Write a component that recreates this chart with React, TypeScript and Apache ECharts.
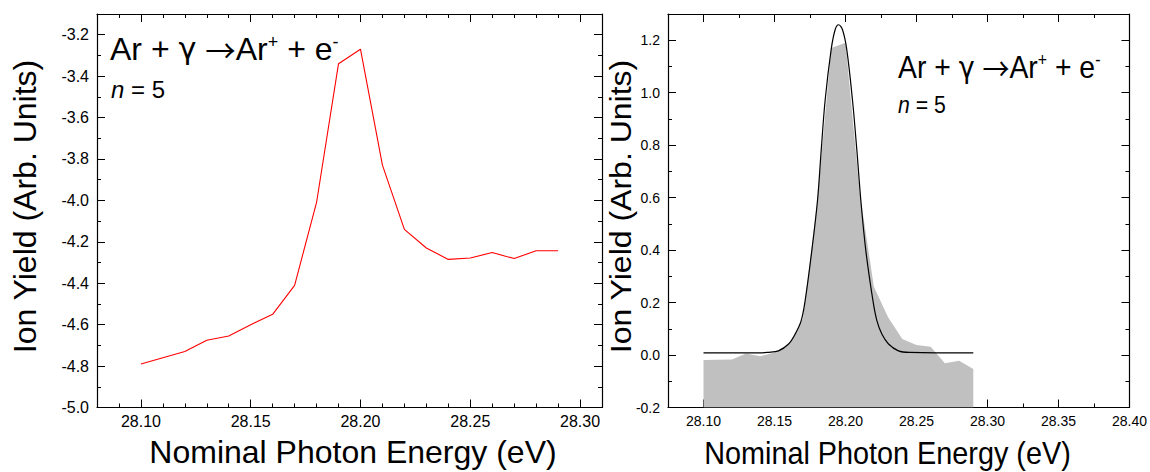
import React, { useEffect, useRef } from "react";
import * as echarts from "echarts";

// ---------- data ----------
const energy = [28.10, 28.11, 28.12, 28.13, 28.14, 28.15, 28.16, 28.17, 28.18, 28.19, 28.20, 28.21, 28.22, 28.23, 28.24, 28.25, 28.26, 28.27, 28.28, 28.29];
const leftYield = [-4.79, -4.76, -4.73, -4.675, -4.655, -4.60, -4.55, -4.41, -4.01, -3.34, -3.27, -3.83, -4.14, -4.23, -4.285, -4.278, -4.252, -4.281, -4.243, -4.243];
const rightYield = [-0.019, -0.018, -0.017, 0.006, -0.005, 0.010, 0.042, 0.138, 0.58, 1.17, 1.19, 0.62, 0.26, 0.144, 0.061, 0.038, 0.032, -0.031, -0.022, -0.053];

const fitEnergy = [28.10, 28.14, 28.145, 28.1528, 28.1599, 28.1646, 28.1688, 28.1716, 28.1763, 28.1803, 28.1829, 28.1857, 28.1899, 28.1927, 28.1951, 28.1979, 28.2009, 28.2049, 28.208, 28.2108, 28.2143, 28.2193, 28.2221, 28.2256, 28.2303, 28.2373, 28.245, 28.29];
const fitYield = [0.008, 0.008, 0.010, 0.016, 0.042, 0.080, 0.131, 0.208, 0.399, 0.590, 0.781, 0.973, 1.164, 1.240, 1.259, 1.240, 1.164, 0.973, 0.781, 0.590, 0.399, 0.208, 0.131, 0.080, 0.042, 0.016, 0.010, 0.008];

// ---------- ticks ----------
const leftXMajor = [28.10, 28.15, 28.20, 28.25, 28.30];
const leftXMinor = [28.09, 28.11, 28.12, 28.13, 28.14, 28.16, 28.17, 28.18, 28.19, 28.21, 28.22, 28.23, 28.24, 28.26, 28.27, 28.28, 28.29];
const leftYMajor = [-5.0, -4.8, -4.6, -4.4, -4.2, -4.0, -3.8, -3.6, -3.4, -3.2];
const leftYMinor = [-4.9, -4.7, -4.5, -4.3, -4.1, -3.9, -3.7, -3.5, -3.3];
const rightXMajor = [28.10, 28.15, 28.20, 28.25, 28.30, 28.35, 28.40];
const rightXMinor = [28.125, 28.175, 28.225, 28.275, 28.325, 28.375];
const rightYMajor = [-0.2, 0.0, 0.2, 0.4, 0.6, 0.8, 1.0, 1.2];
const rightYMinor = [-0.1, 0.1, 0.3, 0.5, 0.7, 0.9, 1.1];

const xTitle = "Nominal Photon Energy (eV)";
const yTitle = "Ion Yield (Arb. Units)";
const reaction = "Ar + {g|γ} {a|→}Ar{s|+} + e{s|-}";
const stateLabel = "{i|n} = 5";

const FONT = "'Liberation Sans', Arial, Helvetica, sans-serif";
const SYM = "'DejaVu Sans', sans-serif";
const ARROW = "'Noto Sans CJK SC', 'DejaVu Sans', sans-serif";

function axisGroup(
  dim: "x" | "y",
  gridIndex: number,
  min: number,
  max: number,
  major: number[],
  minor: number[],
  digits: number,
  labelSize: number
) {
  const mainPos = dim === "x" ? "bottom" : "left";
  const mirrorPos = dim === "x" ? "top" : "right";
  const base = {
    type: "value",
    gridIndex,
    min,
    max,
    scale: true,
    splitLine: { show: false },
    axisPointer: { show: false },
  };
  const line = { show: true, onZero: false, lineStyle: { color: "#000", width: 1.2 } };
  const noLine = { show: false, onZero: false };
  const tick = (vals: number[], len: number) => ({
    show: true,
    inside: true,
    length: len,
    customValues: vals,
    lineStyle: { color: "#000", width: 1 },
  });
  return [
    {
      ...base,
      position: mainPos,
      axisLine: line,
      axisTick: tick(major, 8),
      axisLabel: {
        show: true,
        customValues: major,
        formatter: (v: number) => v.toFixed(digits),
        fontSize: labelSize,
        fontFamily: FONT,
        color: "#000",
        margin: dim === "x" ? 6 : 8,
      },
    },
    { ...base, position: mainPos, axisLine: noLine, axisTick: tick(minor, 4), axisLabel: { show: false } },
    { ...base, position: mirrorPos, axisLine: line, axisTick: tick(major, 8), axisLabel: { show: false } },
    { ...base, position: mirrorPos, axisLine: noLine, axisTick: tick(minor, 4), axisLabel: { show: false } },
  ];
}

export default function App() {
  const ref = useRef<HTMLDivElement>(null);

  useEffect(() => {
    if (!ref.current) return;
    const chart = echarts.init(ref.current, null, { renderer: "svg" });

    const xAxes = [
      ...axisGroup("x", 0, 28.08, 28.31, leftXMajor, leftXMinor, 2, 16),
      ...axisGroup("x", 1, 28.075, 28.40, rightXMajor, rightXMinor, 2, 14),
    ];
    const yAxes = [
      ...axisGroup("y", 0, -5.0, -3.1, leftYMajor, leftYMinor, 1, 16),
      ...axisGroup("y", 1, -0.2, 1.3, rightYMajor, rightYMinor, 1, 14),
    ];

    const titleStyle = (text: string) => ({
      text,
      fontSize: 32,
      fontFamily: FONT,
      fill: "#000",
      align: "center",
      verticalAlign: "middle",
      textAlign: "center",
      textVerticalAlign: "middle",
    });
    const reactionStyle = (text: string, size: number, supSize: number) => ({
      text,
      fontSize: size,
      fontFamily: FONT,
      fill: "#000",
      align: "left",
      verticalAlign: "middle",
      textAlign: "left",
      textVerticalAlign: "middle",
      rich: {
        s: { fontSize: supSize, fontFamily: FONT, fill: "#000", verticalAlign: "top" },
        i: { fontSize: size, fontFamily: FONT, fill: "#000", fontStyle: "italic" },
        g: { fontSize: size * 0.95, fontFamily: SYM, fill: "#000" },
        a: { fontSize: size * 0.95, fontFamily: ARROW, fill: "#000" },
      },
    });

    chart.setOption({
      animation: false,
      backgroundColor: "#fff",
      grid: [
        { left: 97, right: 548, top: 14, bottom: 64.5, containLabel: false },
        { left: 668, right: 20, top: 14, bottom: 64.5, containLabel: false },
      ],
      xAxis: xAxes,
      yAxis: yAxes,
      series: [
        {
          type: "line",
          xAxisIndex: 0,
          yAxisIndex: 0,
          data: energy.map((x, i) => [x, leftYield[i]]),
          symbol: "none",
          lineStyle: { color: "#ff0000", width: 1.1 },
          z: 3,
        },
        {
          type: "line",
          xAxisIndex: 4,
          yAxisIndex: 4,
          data: energy.map((x, i) => [x, rightYield[i]]),
          symbol: "none",
          lineStyle: { opacity: 0, width: 0 },
          areaStyle: { color: "#c0c0c0", opacity: 1, origin: "start" },
          z: 2,
        },
        {
          type: "line",
          xAxisIndex: 4,
          yAxisIndex: 4,
          data: fitEnergy.map((x, i) => [x, fitYield[i]]),
          symbol: "none",
          smooth: 0.35,
          lineStyle: { color: "#000", width: 1.2 },
          z: 4,
        },
      ],
      graphic: [
        { type: "text", x: 25, y: 206.5, rotation: Math.PI / 2, style: titleStyle(yTitle) },
        { type: "text", x: 621, y: 206.5, rotation: Math.PI / 2, scaleY: 0.9, style: titleStyle(yTitle) },
        { type: "text", x: 353, y: 452, style: titleStyle(xTitle) },
        { type: "text", x: 887.5, y: 452, scaleX: 0.9, style: titleStyle(xTitle) },
        { type: "text", x: 110, y: 48.9, style: reactionStyle(reaction, 32, 18) },
        { type: "text", x: 111, y: 89.4, style: reactionStyle(stateLabel, 24, 14) },
        { type: "text", x: 898, y: 67.2, scaleX: 0.886, style: reactionStyle(reaction, 32, 18) },
        { type: "text", x: 898, y: 104.4, scaleX: 0.886, style: reactionStyle(stateLabel, 24, 14) },
      ],
    });

    return () => chart.dispose();
  }, []);

  return (
    <div
      ref={ref}
      style={{ position: "fixed", left: 0, top: 0, width: 1150, height: 472, background: "#fff" }}
    />
  );
}
